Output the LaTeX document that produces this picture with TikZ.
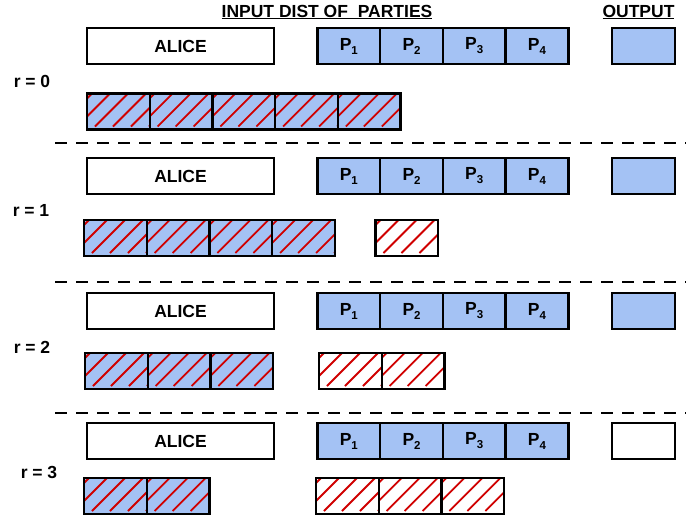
\documentclass[tikz,border=0pt]{standalone}
\usepackage{fontspec}
\setmainfont{Liberation Sans}
\usetikzlibrary{calc}
\definecolor{cellblue}{HTML}{A4C2F4}
\definecolor{hatchred}{HTML}{D00000}
\newcommand{\psub}[1]{P\raisebox{-4pt}{\fontsize{11.5}{11.5}\selectfont #1}}
\tikzset{
  lbl/.style={font=\fontsize{17.5}{19}\selectfont\bfseries, inner sep=0pt},
  box/.style={draw=black, line width=2.4pt, minimum height=36pt, inner sep=0pt, outer sep=0pt,
              font=\fontsize{17.5}{19}\selectfont\bfseries},
  alicebox/.style={box, minimum width=187pt, fill=white},
  pbox/.style={box, minimum width=62.7pt, fill=cellblue},
  outbox/.style={box, minimum width=63pt},
  hcell/.style={box, minimum width=62.7pt,
    path picture={\foreach \k in {-4,...,3}{\draw[hatchred, line width=1.8pt]
      ($(path picture bounding box.south west)+(\k*18pt+8pt,3pt)$) -- ++(60pt,60pt);}}},
  sep/.style={line width=2.5pt, dash pattern=on 12pt off 9pt},
}
\begin{document}
\begin{tikzpicture}[x=1pt,y=-1pt]
\useasboundingbox (0,0) rectangle (689,515);
% headers
\node[lbl, anchor=base] (title) at (327,17) {\underline{INPUT DIST OF\ \ PARTIES}};
\node[lbl, anchor=base] (outtitle) at (638.5,17) {\underline{OUTPUT}};
% rows
\foreach \r/\ty/\hy/\ry/\rx/\nb/\bx/\nw/\wx/\oc in {0/46/111.5/81/32/5/87/0/0/cellblue, 1/176/238/210/31/4/84/1/375.5/cellblue, 2/311/371/347/32/3/85/2/319/cellblue, 3/441/496/472/39/2/84/3/316/white}{
  \node[alicebox] (alice\r) at (180.5,\ty) {ALICE};
  \foreach \i in {1,...,4}{
    \node[pbox] (p\r\i) at (317.5+31.35+62.7*\i-62.7,\ty) {\psub{\i}};
  }
  \node[outbox, fill=\oc] (out\r) at (643.5,\ty) {};
  \node[lbl] (r\r) at (\rx,\ry) {r = \r};
  \foreach \i in {1,...,\nb}{
    \node[hcell, fill=cellblue] (hb\r\i) at (\bx+31.35+62.7*\i-62.7,\hy) {};
  }
  \ifnum\nw>0
    \foreach \i in {1,...,\nw}{
      \node[hcell, fill=white] (hw\r\i) at (\wx+31.35+62.7*\i-62.7,\hy) {};
    }
  \fi
}
% separators
\foreach \s/\y in {1/143,2/282,3/413}{
  \coordinate (sa\s) at (55,\y);
  \coordinate (sb\s) at (686,\y);
  \draw[sep] (sa\s) -- (sb\s);
}
\end{tikzpicture}
\end{document}
